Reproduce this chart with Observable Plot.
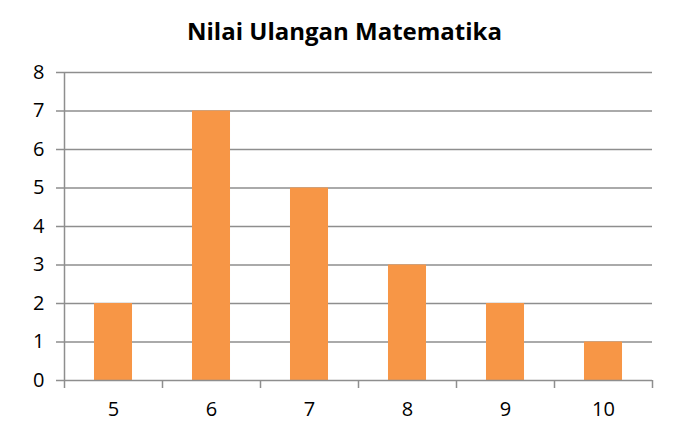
<!DOCTYPE html>
<html>
<head>
<meta charset="utf-8">
<script src="https://cdn.jsdelivr.net/npm/d3@7"></script>
<script src="https://cdn.jsdelivr.net/npm/@observablehq/plot@0.6"></script>
<style>
  html, body { margin: 0; padding: 0; background: #fff; }
  #title { height: 40px; padding-top: 11px; width: 685px; text-align: center; font-family: "Open Sans", sans-serif; font-weight: bold; font-size: 24px; line-height: 40px; color: #000; padding-left: 2px; box-sizing: content-box; }
  #chart svg { display: block; overflow: visible; }
</style>
</head>
<body>
<div id="title">Nilai Ulangan Matematika</div>
<div id="chart"></div>
<script>
const categories = [5, 6, 7, 8, 9, 10];
const counts = [2, 7, 5, 3, 2, 1];
const yTicks = [0, 1, 2, 3, 4, 5, 6, 7, 8];
const boundaries = [4.5, 5.5, 6.5, 7.5, 8.5, 9.5, 10.5];
const barHalf = 0.194;

const data = categories.map((c, i) => ({nilai: c, jumlah: counts[i]}));
const grid = "#8e8e8e";

const chart = Plot.plot({
  width: 685,
  height: 385,
  marginTop: 21,
  marginBottom: 56,
  marginLeft: 64,
  marginRight: 33,
  style: {fontFamily: "Open Sans, sans-serif", fontSize: "20px", color: "#000", background: "#fff"},
  x: {domain: [4.5, 10.5]},
  y: {domain: [0, 8]},
  marks: [
    Plot.ruleY(yTicks.slice(1), {stroke: grid, strokeWidth: 1.5}),
    Plot.rectY(data, {x1: d => d.nilai - barHalf, x2: d => d.nilai + barHalf, y: "jumlah", fill: "#F79646"}),
    Plot.ruleY([0], {stroke: grid, strokeWidth: 1.5}),
    Plot.ruleX([4.5], {stroke: grid, strokeWidth: 1.5}),
    Plot.axisY({ticks: yTicks, tickSize: 8, tickPadding: 12, stroke: grid, strokeWidth: 1.5, fontSize: 20, tickFormat: d => d, label: null}),
    Plot.axisX({ticks: boundaries, tickSize: 8, stroke: grid, strokeWidth: 1.5, tickFormat: () => "", label: null}),
    Plot.axisX({ticks: categories, tickSize: 0, tickPadding: 21, fontSize: 20, tickFormat: d => d, label: null})
  ]
});
document.getElementById("chart").appendChild(chart);
</script>
</body>
</html>
